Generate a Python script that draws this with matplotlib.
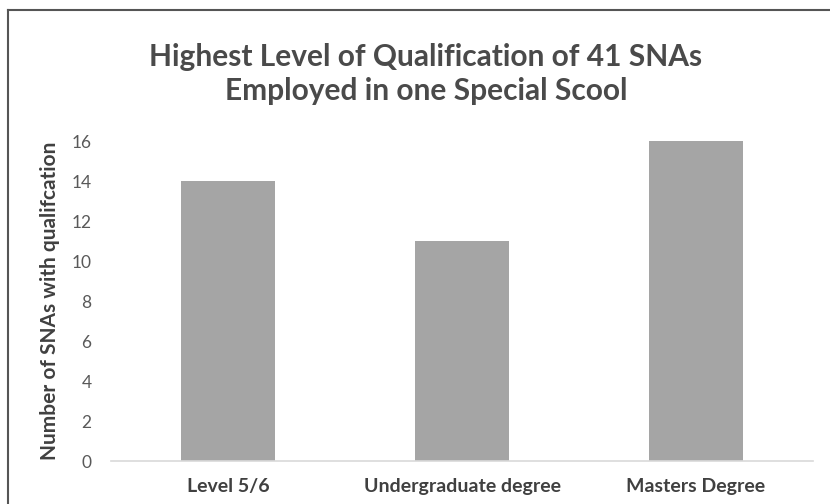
import matplotlib
matplotlib.use("Agg")
import matplotlib.pyplot as plt
from matplotlib.lines import Line2D

categories = ["Level 5/6", "Undergraduate degree", "Masters Degree"]
values = [14, 11, 16]
yticks = [0, 2, 4, 6, 8, 10, 12, 14, 16]
title = "Highest Level of Qualification of 41 SNAs\nEmployed in one Special Scool"
ylabel = "Number of SNAs with qualifcation"

plt.rcParams['font.family'] = ['Lato', 'DejaVu Sans']

fig = plt.figure(figsize=(8.3, 5.04), dpi=100)
ax = fig.add_axes([111/830, 1-461/504, (813-111)/830, (461-141)/504])

x = list(range(len(categories)))
ax.bar(x, values, width=0.4, color="#a5a5a5", zorder=2)
ax.set_xlim(-0.5, len(categories)-0.5)
ax.set_ylim(0, 16)
ax.set_yticks(yticks)
ax.set_yticklabels([str(t) for t in yticks], fontsize=12.5, color="#595959")
ax.set_xticks(x)
ax.set_xticklabels(categories, fontsize=14, fontweight="bold", color="#404040")
ax.tick_params(axis="both", length=0)
ax.tick_params(axis="y", pad=14)
ax.tick_params(axis="x", pad=12)
for s in ["top", "right", "left"]:
    ax.spines[s].set_visible(False)
ax.spines["bottom"].set_color("#d9d9d9")
ax.spines["bottom"].set_linewidth(1.2)
ax.set_ylabel(ylabel, fontsize=15, fontweight="bold", color="#404040", labelpad=8)

fig.text(426/830, 1-74/504, title, ha="center", va="center", fontsize=21.5,
         color="#4a4a4a", fontweight="bold", linespacing=1.3)

fig.add_artist(Line2D([8/830, 8/830], [0, 1-10/504], transform=fig.transFigure, color="#555555", lw=1.5))
fig.add_artist(Line2D([8/830, 1], [1-10/504, 1-10/504], transform=fig.transFigure, color="#555555", lw=1.5))

fig.savefig("out.png", dpi=100)
